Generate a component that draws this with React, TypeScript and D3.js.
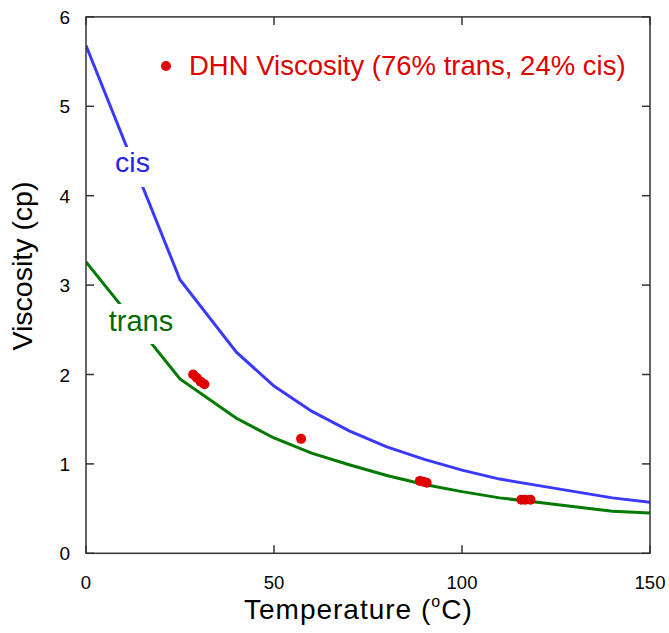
import React from "react";
import * as d3 from "d3";

const cisT = [0, 25, 40, 50, 60, 70, 80, 90, 100, 110, 120, 130, 140, 150];
const cisV = [5.68, 3.06, 2.25, 1.87, 1.59, 1.37, 1.19, 1.05, 0.93, 0.83, 0.76, 0.69, 0.62, 0.57];
const transT = [0, 25, 40, 50, 60, 70, 80, 90, 100, 110, 120, 130, 140, 150];
const transV = [3.26, 1.95, 1.51, 1.29, 1.12, 0.99, 0.87, 0.77, 0.69, 0.62, 0.57, 0.52, 0.47, 0.45];
const dataT = [28.5, 29.5, 30.5, 31.5, 57.2, 88.8, 89.8, 90.6, 115.8, 116.8, 118.2];
const dataV = [2.0, 1.96, 1.92, 1.89, 1.28, 0.81, 0.80, 0.79, 0.60, 0.60, 0.60];
const xTicks = [0, 50, 100, 150];
const yTicks = [0, 1, 2, 3, 4, 5, 6];

export default function App() {
  const W = 669, H = 633;
  const x = d3.scaleLinear().domain([0, 150]).range([86, 650]);
  const y = d3.scaleLinear().domain([0, 6]).range([553.3, 16.9]);
  const line = d3.line<[number, number]>().x(d => x(d[0])).y(d => y(d[1]));
  const cis = cisT.map((t, i) => [t, cisV[i]] as [number, number]);
  const trans = transT.map((t, i) => [t, transV[i]] as [number, number]);
  const font = "'Liberation Sans', Arial, sans-serif";
  const [x0, x1] = x.range();
  const [y0, y1] = y.range();
  return (
    <svg width={W} height={H} style={{ position: "absolute", left: 0, top: 0, background: "#fff" }} fontFamily={font}>
      <defs>
        <clipPath id="plot"><rect x={x0} y={y1} width={x1 - x0} height={y0 - y1} /></clipPath>
      </defs>
      <g clipPath="url(#plot)">
        <path d={line(cis) || ""} fill="none" stroke="#3a3aff" strokeWidth={3} />
        <path d={line(trans) || ""} fill="none" stroke="#007a00" strokeWidth={3} />
      </g>
      <rect x={105} y={147} width={52} height={40} fill="#fff" />
      <rect x={100} y={304} width={84} height={40} fill="#fff" />
      <text x={132.5} y={172} fontSize={28.5} fill="#2222ee" textAnchor="middle">cis</text>
      <text x={141} y={331} fontSize={29} fill="#006a00" textAnchor="middle">trans</text>
      {dataT.map((t, i) => (
        <circle key={i} cx={x(t)} cy={y(dataV[i])} r={5} fill="#e00000" />
      ))}
      <circle cx={166} cy={66} r={5} fill="#e00000" />
      <text x={189} y={74.5} fontSize={27.5} fill="#e00000">DHN Viscosity (76% trans, 24% cis)</text>
      <rect x={x0} y={y1} width={x1 - x0} height={y0 - y1} fill="none" stroke="#333" strokeWidth={1.5} />
      {xTicks.map(t => (
        <g key={t}>
          <line x1={x(t)} x2={x(t)} y1={y0} y2={y0 - 8} stroke="#333" strokeWidth={1.5} />
          <line x1={x(t)} x2={x(t)} y1={y1} y2={y1 + 8} stroke="#333" strokeWidth={1.5} />
          <text x={x(t)} y={589} fontSize={18.5} textAnchor="middle" fill="#000">{t}</text>
        </g>
      ))}
      {yTicks.map(v => (
        <g key={v}>
          <line x1={x0} x2={x0 + 8} y1={y(v)} y2={y(v)} stroke="#333" strokeWidth={1.5} />
          <line x1={x1} x2={x1 - 8} y1={y(v)} y2={y(v)} stroke="#333" strokeWidth={1.5} />
          <text x={70} y={y(v) + 7} fontSize={19} textAnchor="end" fill="#000">{v}</text>
        </g>
      ))}
      <text x={244} y={619} fontSize={28} letterSpacing={1} textAnchor="start" fill="#000">
        Temperature (<tspan dy={-12} fontSize={16}>o</tspan><tspan dy={12}>C)</tspan>
      </text>
      <text transform="translate(32,266) rotate(-90)" fontSize={28.5} textAnchor="middle" fill="#000">Viscosity (cp)</text>
    </svg>
  );
}
